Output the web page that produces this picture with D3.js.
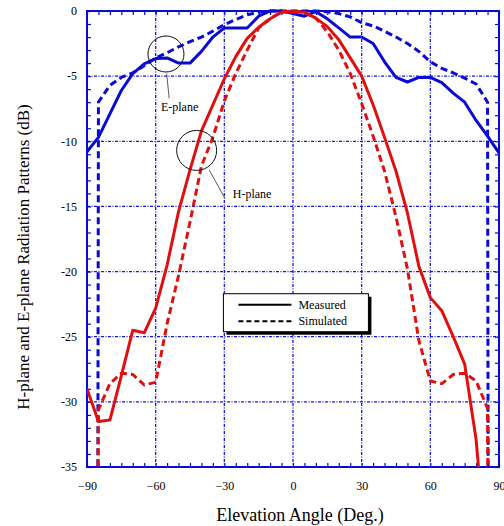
<!DOCTYPE html>
<html>
<head>
<meta charset="utf-8">
<script src="https://cdn.jsdelivr.net/npm/d3@7"></script>
<style>
  body { margin: 0; background: #fff; }
  text { font-family: "Liberation Serif", "Times New Roman", serif; fill: #000; }
</style>
</head>
<body>
<div id="chart"></div>
<script>
// Angle grid shared by the measured curves (deg)
var measAngles = [-90, -85, -80, -75, -70, -65, -60, -55, -50, -45, -40, -35, -30, -25, -20, -15, -10, -5,
                  0, 5, 10, 15, 20, 25, 30, 35, 40, 45, 50, 55, 60, 65, 70, 75, 80, 85, 90];

// E-plane measured (dB)
var eMeasured = [-10.8, -9.7, -7.9, -6.1, -4.8, -4.05, -3.65, -3.6, -4.0, -4.0, -3.1, -2.0, -1.3, -1.3, -1.3, -0.4, 0, 0,
                 -0.2, -0.4, -0.05, -0.6, -1.3, -2.0, -2.0, -2.5, -3.9, -5.1, -5.45, -5.1, -5.1, -5.5, -6.3, -7.0, -8.4, -9.6, -10.9];

// H-plane measured (dB); last points run off the bottom
var hMeasured = [-29.0, -31.5, -31.4, -28.0, -24.5, -24.7, -22.8, -19.5, -15.4, -12.2, -9.2, -7.2, -5.2, -3.5, -2.1, -1.25, -0.6, -0.1,
                 -0.05, -0.1, -0.55, -1.2, -2.2, -3.6, -5.0, -7.2, -9.7, -12.3, -15.5, -19.6, -22.0, -23.0, -25.0, -27.1, -32.9, -43, -60];

// Simulated curves: angles include the steep edge drops near +/-85.3 deg
var simAngles = [-85.3, -85, -80, -75, -70, -65, -60, -55, -50, -45, -40, -35, -30, -25, -20, -15, -10, -5,
                 0, 5, 10, 15, 20, 25, 30, 35, 40, 45, 50, 55, 60, 65, 70, 75, 80, 85, 85.3];

var eSimulated = [-40, -7.0, -5.7, -5.1, -4.75, -4.2, -3.6, -3.2, -2.75, -2.35, -2.0, -1.55, -1.05, -0.65, -0.3, -0.08, 0, 0,
                  0, 0, 0, -0.05, -0.2, -0.45, -0.9, -1.15, -1.55, -2.0, -2.5, -3.1, -3.9, -4.4, -4.75, -5.15, -5.6, -7.0, -40];

var hSimulated = [-40, -30.6, -28.6, -27.8, -27.9, -28.7, -28.5, -24.0, -20.3, -16.2, -11.9, -9.7, -6.9, -4.8, -3.0, -1.3, -0.6, -0.05,
                  0, -0.1, -0.55, -1.6, -3.0, -4.8, -7.1, -9.6, -12.3, -15.8, -19.8, -25.3, -28.4, -28.6, -27.9, -27.8, -28.4, -30.5, -40];

// Tick values
var xTicks = [-90, -60, -30, 0, 30, 60, 90];
var yTicks = [0, -5, -10, -15, -20, -25, -30, -35];

var svgWidth = 504;
var svgHeight = 526;

var margin = { top: 11, right: 5, bottom: 59, left: 87 };
var width = svgWidth - margin.left - margin.right;
var height = svgHeight - margin.top - margin.bottom;

var blue = "#0a0ad2";
var red = "#e01010";
var gridBlue = "#1414e6";

var svg = d3.select("#chart")
  .append("svg")
  .attr("width", svgWidth)
  .attr("height", svgHeight);

var chartGroup = svg.append("g")
  .attr("transform", `translate(${margin.left}, ${margin.top})`);

var x = d3.scaleLinear().domain([-90, 90]).range([0, width]);
var y = d3.scaleLinear().domain([-35, 0]).range([height, 0]);

svg.append("defs").append("clipPath").attr("id", "plotClip")
  .append("rect").attr("x", 0).attr("y", -2).attr("width", width).attr("height", height + 2);

// grid lines
var grid = chartGroup.append("g");
grid.selectAll(".vgrid")
  .data(xTicks)
  .enter()
  .append("line")
  .attr("x1", d => x(d)).attr("x2", d => x(d))
  .attr("y1", 0).attr("y2", height)
  .attr("stroke", gridBlue)
  .attr("stroke-width", 1.3)
  .attr("stroke-dasharray", "3,1.5,1,1.5");
grid.selectAll(".hgrid")
  .data(yTicks)
  .enter()
  .append("line")
  .attr("x1", 0).attr("x2", width)
  .attr("y1", d => y(d)).attr("y2", d => y(d))
  .attr("stroke", gridBlue)
  .attr("stroke-width", 1.3)
  .attr("stroke-dasharray", "3,1.5,1,1.5");

// minor ticks, inward on all four sides
var xMinor = d3.axisBottom(x).ticks(36).tickSize(-4).tickFormat("");
var xMinorTop = d3.axisTop(x).ticks(36).tickSize(-4).tickFormat("");
var yMinor = d3.axisLeft(y).ticks(35).tickSize(-4).tickFormat("");
var yMinorRight = d3.axisRight(y).ticks(35).tickSize(-4).tickFormat("");

chartGroup.append("g").attr("transform", `translate(0, ${height})`).call(xMinor);
chartGroup.append("g").call(xMinorTop);
chartGroup.append("g").call(yMinor);
chartGroup.append("g").attr("transform", `translate(${width}, 0)`).call(yMinorRight);
chartGroup.selectAll(".domain").remove();
chartGroup.selectAll(".tick line").attr("stroke", blue).attr("stroke-width", 1.2);

// frame
chartGroup.append("rect")
  .attr("x", 0).attr("y", 0)
  .attr("width", width).attr("height", height)
  .attr("fill", "none")
  .attr("stroke", blue)
  .attr("stroke-width", 2);

// tick labels
var bottomAxis = d3.axisBottom(x).tickValues(xTicks).tickSize(0).tickPadding(14);
var leftAxis = d3.axisLeft(y).tickValues(yTicks).tickSize(0).tickPadding(10).tickFormat(d => d);

var xLab = chartGroup.append("g").attr("transform", `translate(0, ${height})`).call(bottomAxis);
var yLab = chartGroup.append("g").call(leftAxis);
[xLab, yLab].forEach(function(g) {
  g.select(".domain").remove();
  g.selectAll("text")
    .attr("font-family", "Liberation Serif")
    .attr("font-size", 12)
    .attr("fill", "#000");
});

// curves
var lineGen = d3.line()
  .x(d => x(d[0]))
  .y(d => y(d[1]));

var curves = [
  { a: measAngles, v: eMeasured, color: blue, dash: null },
  { a: simAngles, v: eSimulated, color: blue, dash: "7,4" },
  { a: measAngles, v: hMeasured, color: red, dash: null },
  { a: simAngles, v: hSimulated, color: red, dash: "7,4" }
];

var curveGroup = chartGroup.append("g").attr("clip-path", "url(#plotClip)");
curves.forEach(function(c) {
  curveGroup.append("path")
    .datum(c.a.map((d, i) => [d, c.v[i]]))
    .attr("d", lineGen)
    .attr("fill", "none")
    .attr("stroke", c.color)
    .attr("stroke-width", 3)
    .attr("stroke-linejoin", "round")
    .attr("stroke-dasharray", c.dash);
});

// annotations
var ann = chartGroup.append("g");
ann.append("circle")
  .attr("cx", x(-55.5)).attr("cy", y(-3.3)).attr("r", 18)
  .attr("fill", "none").attr("stroke", "#111").attr("stroke-width", 1);
ann.append("line")
  .attr("x1", x(-55.2)).attr("y1", y(-4.8))
  .attr("x2", x(-54.1)).attr("y2", y(-6.7))
  .attr("stroke", "#333").attr("stroke-width", 0.8);
ann.append("text")
  .attr("x", x(-57.7)).attr("y", y(-7.7))
  .attr("font-size", 12)
  .text("E-plane");

ann.append("circle")
  .attr("cx", x(-42.1)).attr("cy", y(-10.7)).attr("r", 20)
  .attr("fill", "none").attr("stroke", "#111").attr("stroke-width", 1);
ann.append("line")
  .attr("x1", x(-36.6)).attr("y1", y(-12.2))
  .attr("x2", x(-29.7)).attr("y2", y(-14.4))
  .attr("stroke", "#333").attr("stroke-width", 0.8);
ann.append("text")
  .attr("x", x(-26.3)).attr("y", y(-14.35))
  .attr("font-size", 12)
  .text("H-plane");

// legend
var legend = chartGroup.append("g")
  .attr("transform", `translate(${x(-30.4)}, ${y(-21.7)})`);
legend.append("rect")
  .attr("x", 3).attr("y", 3)
  .attr("width", 145).attr("height", 38)
  .attr("fill", "#000");
legend.append("rect")
  .attr("x", 0).attr("y", 0)
  .attr("width", 145).attr("height", 38)
  .attr("fill", "#fff")
  .attr("stroke", "#000")
  .attr("stroke-width", 1);
legend.append("line")
  .attr("x1", 15).attr("x2", 68).attr("y1", 11).attr("y2", 11)
  .attr("stroke", "#000").attr("stroke-width", 2);
legend.append("line")
  .attr("x1", 15).attr("x2", 68).attr("y1", 27.5).attr("y2", 27.5)
  .attr("stroke", "#000").attr("stroke-width", 2)
  .attr("stroke-dasharray", "5,3");
legend.append("text").attr("x", 75).attr("y", 15).attr("font-size", 12).text("Measured");
legend.append("text").attr("x", 75).attr("y", 31.5).attr("font-size", 12).text("Simulated");

// axis titles
svg.append("text")
  .attr("x", 300)
  .attr("y", 521)
  .attr("text-anchor", "middle")
  .attr("font-size", 18)
  .text("Elevation Angle (Deg.)");

svg.append("text")
  .attr("transform", "translate(29, 257) rotate(-90)")
  .attr("text-anchor", "middle")
  .attr("font-size", 17)
  .text("H-plane and E-plane Radiation Patterns (dB)");
</script>
</body>
</html>
